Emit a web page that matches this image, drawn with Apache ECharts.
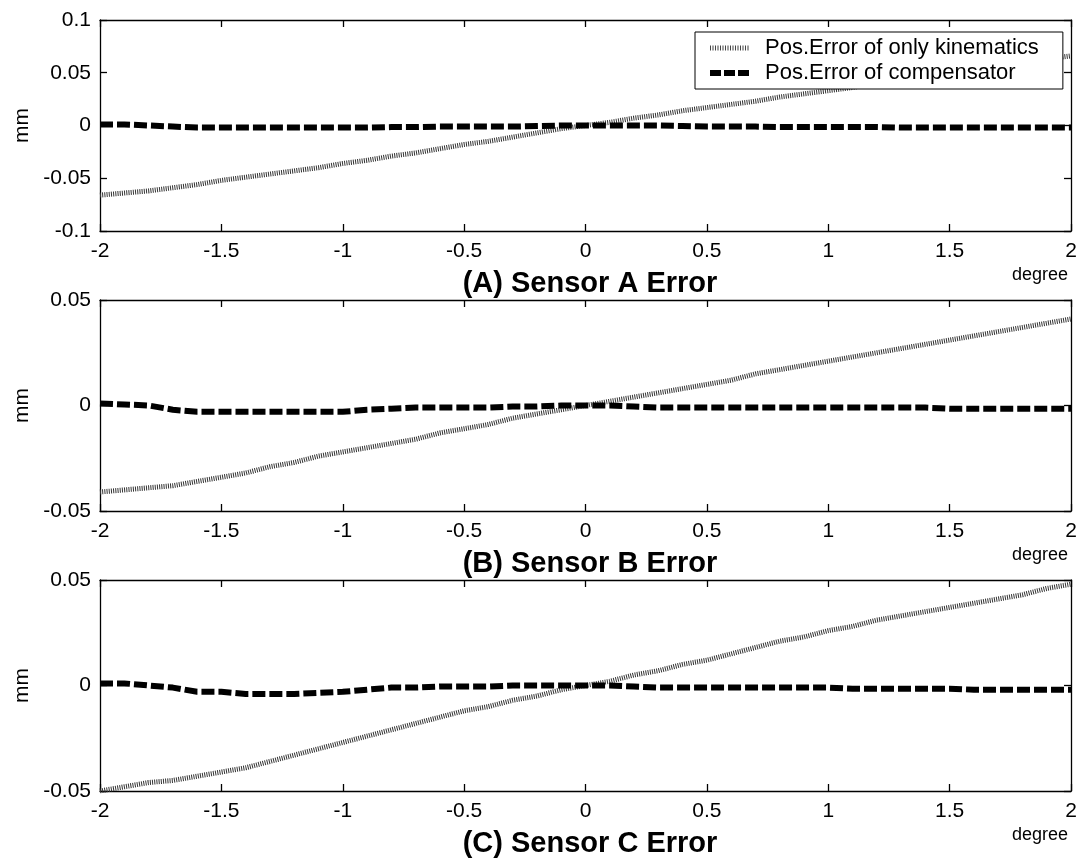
<!DOCTYPE html>
<html>
<head>
<meta charset="utf-8">
<script src="https://cdn.jsdelivr.net/npm/echarts@6/dist/echarts.min.js"></script>
<style>
html,body{margin:0;padding:0;background:#fff;}
#chart{width:1080px;height:864px;}
</style>
</head>
<body>
<div id="chart"></div>
<script>
// ---- data ----
var degrees = [-2,-1.9,-1.8,-1.7,-1.6,-1.5,-1.4,-1.3,-1.2,-1.1,-1,-0.9,-0.8,-0.7,-0.6,-0.5,-0.4,-0.3,-0.2,-0.1,0,
               0.1,0.2,0.3,0.4,0.5,0.6,0.7,0.8,0.9,1,1.1,1.2,1.3,1.4,1.5,1.6,1.7,1.8,1.9,2];

var kinA = [-0.066,-0.064,-0.062,-0.059,-0.056,-0.052,-0.049,-0.046,-0.043,-0.040,-0.036,-0.033,-0.029,-0.026,-0.022,-0.018,-0.015,-0.011,-0.007,-0.003,0.000,
            0.003,0.007,0.010,0.014,0.017,0.020,0.023,0.027,0.030,0.033,0.036,0.040,0.043,0.046,0.050,0.053,0.056,0.059,0.063,0.066];
var compA = [0.001,0.001,0.000,-0.001,-0.002,-0.002,-0.002,-0.002,-0.002,-0.002,-0.002,-0.002,-0.0015,-0.0015,-0.001,-0.001,-0.001,-0.001,-0.0005,0.000,0.000,
             0.000,0.000,0.000,-0.0005,-0.001,-0.001,-0.001,-0.0015,-0.0015,-0.0015,-0.0015,-0.0015,-0.002,-0.002,-0.002,-0.002,-0.002,-0.002,-0.002,-0.002];

var kinB = [-0.041,-0.040,-0.039,-0.038,-0.036,-0.034,-0.032,-0.029,-0.027,-0.024,-0.022,-0.020,-0.018,-0.016,-0.013,-0.011,-0.009,-0.006,-0.004,-0.002,0.000,
            0.002,0.004,0.006,0.008,0.010,0.012,0.015,0.017,0.019,0.021,0.023,0.025,0.027,0.029,0.031,0.033,0.035,0.037,0.039,0.041];
var compB = [0.001,0.0005,0.000,-0.002,-0.003,-0.003,-0.003,-0.003,-0.003,-0.003,-0.003,-0.002,-0.0015,-0.001,-0.001,-0.001,-0.001,-0.0005,-0.0005,0.000,0.000,
             0.000,-0.0005,-0.001,-0.001,-0.001,-0.001,-0.001,-0.001,-0.001,-0.001,-0.001,-0.001,-0.001,-0.001,-0.0015,-0.0015,-0.0015,-0.0015,-0.0015,-0.0015];

var kinC = [-0.050,-0.048,-0.046,-0.045,-0.043,-0.041,-0.039,-0.036,-0.033,-0.030,-0.027,-0.024,-0.021,-0.018,-0.015,-0.012,-0.010,-0.007,-0.005,-0.002,0.000,
            0.002,0.005,0.007,0.010,0.012,0.015,0.018,0.021,0.023,0.026,0.028,0.031,0.033,0.035,0.037,0.039,0.041,0.043,0.046,0.048];
var compC = [0.001,0.001,0.000,-0.001,-0.003,-0.003,-0.004,-0.004,-0.004,-0.0035,-0.003,-0.002,-0.001,-0.001,-0.0005,-0.0005,-0.0005,0.000,0.000,0.000,0.000,
             0.000,-0.0005,-0.001,-0.001,-0.001,-0.001,-0.001,-0.001,-0.001,-0.001,-0.0015,-0.0015,-0.0015,-0.0015,-0.0015,-0.002,-0.002,-0.002,-0.002,-0.002];

var xTicks = {min: -2, max: 2, interval: 0.5};
var yRanges = [
  {min: -0.1, max: 0.1, interval: 0.05},
  {min: -0.05, max: 0.05, interval: 0.05},
  {min: -0.05, max: 0.05, interval: 0.05}
];
var panelTitles = ['(A) Sensor A Error', '(B) Sensor B Error', '(C) Sensor C Error'];
var xUnit = 'degree';
var yUnit = 'mm';
var seriesNames = ['Pos.Error of only kinematics', 'Pos.Error of compensator'];
var kinSets = [kinA, kinB, kinC];
var compSets = [compA, compB, compC];

// ---- layout ----
var FONT = 'Liberation Sans, Arial, Helvetica, sans-serif';
var gridTops = [20, 300, 580];
var gridH = 211;
var gridLeft = 100, gridW = 971;

function pairs(arr){ return degrees.map(function(d,i){ return [d, arr[i]]; }); }

var kinStyle = {color: '#333', width: 5, type: [1, 1.2], cap: 'butt'};
var compStyle = {color: '#000', width: 6, type: [13, 4], cap: 'butt'};

var grids = [], xAxes = [], yAxes = [], series = [], titles = [], graphics = [];
var axisLine = {show: true, onZero: false, lineStyle: {color: '#000', width: 1.3}};
var tick = {show: true, inside: true, length: 7, lineStyle: {color: '#000', width: 1.3}};

for (var p = 0; p < 3; p++) {
  grids.push({left: gridLeft, top: gridTops[p], width: gridW, height: gridH, containLabel: false});
  xAxes.push({type: 'value', gridIndex: p, position: 'bottom', min: xTicks.min, max: xTicks.max, interval: xTicks.interval,
    axisLine: axisLine, axisTick: tick, splitLine: {show: false},
    axisLabel: {show: true, color: '#000', fontSize: 21, fontFamily: FONT, margin: 10}});
  xAxes.push({type: 'value', gridIndex: p, position: 'top', min: xTicks.min, max: xTicks.max, interval: xTicks.interval,
    axisLine: axisLine, axisTick: tick, splitLine: {show: false}, axisLabel: {show: false}});
  var yr = yRanges[p];
  yAxes.push({type: 'value', gridIndex: p, position: 'left', min: yr.min, max: yr.max, interval: yr.interval,
    axisLine: axisLine, axisTick: tick, splitLine: {show: false},
    axisLabel: {show: true, color: '#000', fontSize: 21, fontFamily: FONT, margin: 9},
    name: yUnit, nameLocation: 'middle', nameGap: 64, nameRotate: 90,
    nameTextStyle: {color: '#000', fontSize: 21, fontFamily: FONT}});
  yAxes.push({type: 'value', gridIndex: p, position: 'right', min: yr.min, max: yr.max, interval: yr.interval,
    axisLine: axisLine, axisTick: tick, splitLine: {show: false}, axisLabel: {show: false}});

  series.push({name: seriesNames[0], type: 'line', xAxisIndex: p*2, yAxisIndex: p*2, data: pairs(kinSets[p]),
    symbol: 'none', showSymbol: false, z: 3, lineStyle: kinStyle, itemStyle: {color: '#333'}});
  series.push({name: seriesNames[1], type: 'line', xAxisIndex: p*2, yAxisIndex: p*2, data: pairs(compSets[p]),
    symbol: 'none', showSymbol: false, z: 4, lineStyle: compStyle, itemStyle: {color: '#000'}});

  titles.push({text: panelTitles[p], left: 585, textAlign: 'center', top: gridTops[p] + gridH + 33,
    textStyle: {fontSize: 29, fontWeight: 'bold', color: '#000', fontFamily: FONT}});
  graphics.push({type: 'text', right: 12, top: gridTops[p] + gridH + 35,
    style: {text: xUnit, fontSize: 18, fill: '#000', fontFamily: FONT}});
}

var option = {
  backgroundColor: '#fff',
  animation: false,
  title: titles,
  grid: grids,
  xAxis: xAxes,
  yAxis: yAxes,
  legend: {
    data: [
      {name: seriesNames[0], itemStyle: {opacity: 0}, lineStyle: {color: '#444', width: 5, type: [1, 1.5]}},
      {name: seriesNames[1], itemStyle: {opacity: 0}, lineStyle: {color: '#000', width: 6, type: [11, 3]}}
    ],
    orient: 'vertical',
    left: 695, top: 32,
    padding: [4, 24, 4, 12],
    itemGap: 1,
    itemWidth: 40, itemHeight: 14,
    backgroundColor: '#fff',
    borderColor: '#000', borderWidth: 1, borderRadius: 0,
    textStyle: {fontSize: 22, color: '#000', fontFamily: FONT, lineHeight: 24, padding: [0, 0, 0, 10]}
  },
  graphic: graphics,
  series: series
};

var chart = echarts.init(document.getElementById('chart'), null, {renderer: 'canvas'});
chart.setOption(option);
</script>
</body>
</html>
